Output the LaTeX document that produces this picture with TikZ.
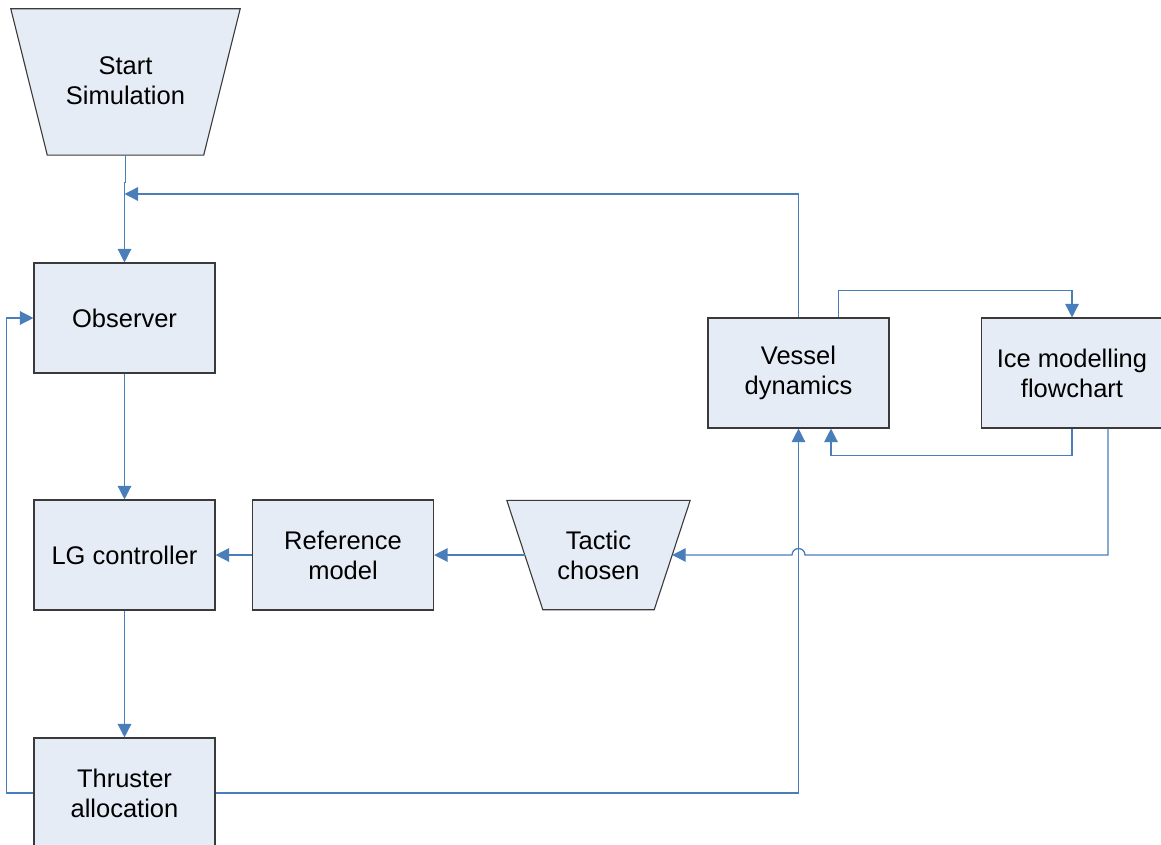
\documentclass[tikz,border=0pt]{standalone}
\usepackage{fontspec}
\setmainfont{Liberation Sans}
\usetikzlibrary{arrows.meta,backgrounds,calc}
\definecolor{boxfill}{HTML}{E6ECF5}
\definecolor{flowblue}{HTML}{4A7EBB}
\definecolor{boxline}{HTML}{3A3A3A}
\begin{document}
\begin{tikzpicture}[x=1pt,y=-1pt,
  every node/.style={font=\fontsize{25.5}{30}\selectfont, align=center, inner sep=0pt},
  block/.style={draw=boxline, fill=boxfill, line width=1.1pt,
                minimum width=181pt, minimum height=110pt},
  trapbody/.style={draw=boxline, fill=boxfill, line width=1.1pt},
  link/.style={draw=flowblue, line width=1.3pt},
  flow/.style={link, -{Triangle[length=13.5pt,width=13.5pt]}}]
\useasboundingbox (0,0) rectangle (1161,845);
\clip (0,0) rectangle (1161,845);

% rectangular blocks
\node[block] (obs) at (124.5,318) {Observer};
\node[block] (lg)  at (124.5,555) {LG controller};
\node[block] (thr) at (124.5,793) {Thruster\\allocation};
\node[block] (ref) at (343,555)   {Reference\\model};
\node[block] (ves) at (798.5,373) {Vessel\\dynamics};
\node[block] (ice) at (1072,373)  {Ice modelling\\flowchart};

% trapezoid blocks (text nodes, outline drawn behind)
\node[minimum width=229pt, minimum height=146pt] (start) at (125.5,81) {Start\\Simulation};
\node[minimum width=183pt, minimum height=109pt] (tac) at (598.5,555) {Tactic\\chosen};
\begin{scope}[on background layer]
  \draw[trapbody] ([yshift=-1pt]start.north west) -- ([yshift=-1pt]start.north east)
     -- ([xshift=-36.5pt,yshift=-1pt]start.south east) -- ([xshift=36.5pt,yshift=-1pt]start.south west) -- cycle;
  \draw[trapbody] (tac.north west) -- (tac.north east)
     -- ([xshift=-36pt]tac.south east) -- ([xshift=36pt]tac.south west) -- cycle;
\end{scope}

% main chain
\draw[flow] ([yshift=-1pt]start.south) -- ++(0,27) -| (obs.north);
\draw[flow] (obs.south) -- (lg.north);
\draw[flow] (lg.south) -- (thr.north);
\draw[flow] (ref.west) -- (lg.east);
\draw[flow] ([xshift=18pt]tac.west) -- (ref.east);

% feedback loops
\coordinate (join) at (124.5,194);
\draw[flow] (ves.north) |- (join);
\draw[flow] (thr.west) -- ++(-27,0) |- (obs.west);
\draw[flow] (thr.east) -| (ves.south);

% vessel / ice exchange
\draw[flow] ([xshift=40pt]ves.north) -- ++(0,-27) -| (ice.north);
\draw[flow] (ice.south) -- ++(0,27) -| ([xshift=32.5pt]ves.south);

% ice model to tactic, hopping over the vertical line
\draw[flow] ([xshift=36pt]ice.south) -- ([xshift=36pt]ice.south |- tac.east)
   -- ($(ves.south |- tac.east)+(6.5,0)$)
   arc[start angle=0, end angle=180, radius=6.5pt]
   -- ([xshift=-18pt]tac.east);
\end{tikzpicture}
\end{document}
